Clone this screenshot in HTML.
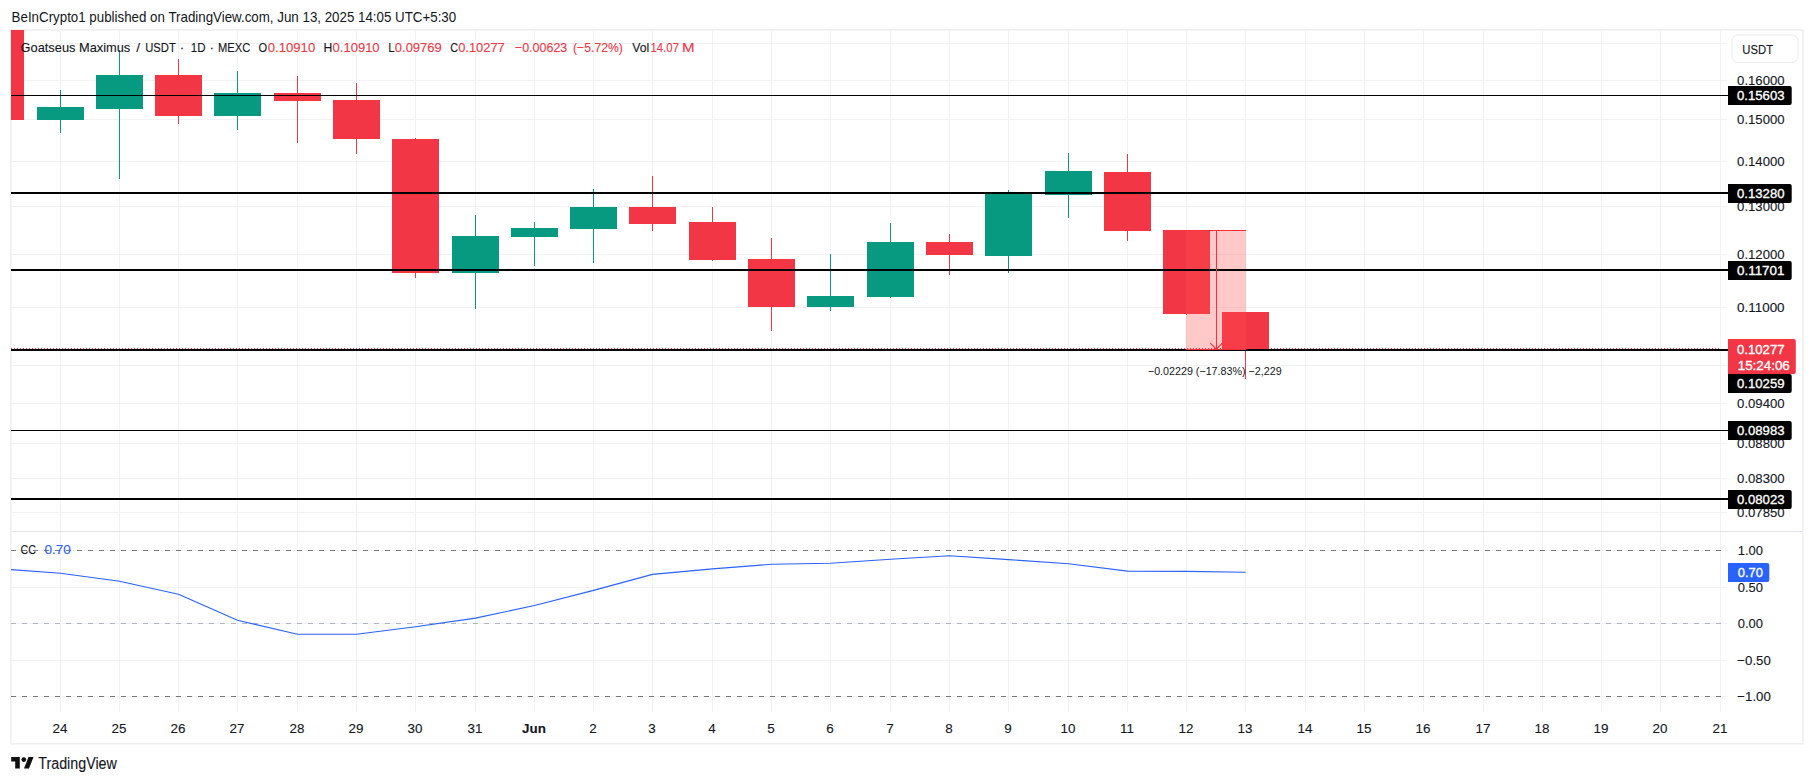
<!DOCTYPE html>
<html><head><meta charset="utf-8"><title>Goatseus Maximus / USDT chart</title>
<style>
html,body{margin:0;padding:0;background:#fff;width:1814px;height:783px;overflow:hidden;}
svg{display:block;}
text{font-family:'Liberation Sans', Arial, sans-serif;}
</style></head><body>
<svg width="1814" height="783" viewBox="0 0 1814 783">
<rect x="0" y="0" width="1814" height="783" fill="#ffffff"/>

<text x="11.6" y="21.7" font-size="13.9" fill="#131722" textLength="444.6" lengthAdjust="spacingAndGlyphs">BeInCrypto1 published on TradingView.com, Jun 13, 2025 14:05 UTC+5:30</text>
<rect x="10.8" y="29.9" width="1792" height="713.9" fill="#ffffff" stroke="#EFEFEF" stroke-width="1.6"/>
<path d="M60.5 31V712 M119.5 31V712 M178.5 31V712 M237.5 31V712 M297.5 31V712 M356.5 31V712 M415.5 31V712 M475.5 31V712 M534.5 31V712 M593.5 31V712 M652.5 31V712 M712.5 31V712 M771.5 31V712 M830.5 31V712 M890.5 31V712 M949.5 31V712 M1008.5 31V712 M1068.5 31V712 M1127.5 31V712 M1186.5 31V712 M1245.5 31V712 M1305.5 31V712 M1364.5 31V712 M1423.5 31V712 M1483.5 31V712 M1542.5 31V712 M1601.5 31V712 M1660.5 31V712 M1720.5 31V712 M11 43.5H1727 M11 80.5H1727 M11 119.5H1727 M11 161.5H1727 M11 206.5H1727 M11 254.5H1727 M11 307.5H1727 M11 365.5H1727 M11 403.5H1727 M11 443.5H1727 M11 478.5H1727 M11 512.5H1727 M11 550.5H1727 M11 587.5H1727 M11 623.5H1727 M11 660.5H1727 M11 696.5H1727" stroke="#F0F2F3" stroke-width="1" fill="none" shape-rendering="crispEdges"/>
<rect x="11" y="531" width="1791" height="1" fill="#E0E3EB"/>
<path d="M11 550.5H1721" stroke="#777777" stroke-width="1" stroke-dasharray="5 6" fill="none" shape-rendering="crispEdges"/>
<path d="M11 623.5H1721" stroke="#B2B5BE" stroke-width="1" stroke-dasharray="5 6" fill="none" shape-rendering="crispEdges"/>
<path d="M11 696.5H1721" stroke="#777777" stroke-width="1" stroke-dasharray="5 6" fill="none" shape-rendering="crispEdges"/>
<g shape-rendering="crispEdges">
<rect x="11" y="30" width="13" height="90" fill="#F23645"/>
<rect x="60" y="90" width="1" height="43" fill="#089981"/>
<rect x="37" y="107" width="47" height="13" fill="#089981"/>
<rect x="119" y="50" width="1" height="129" fill="#089981"/>
<rect x="96" y="75" width="47" height="34" fill="#089981"/>
<rect x="178" y="59" width="1" height="65" fill="#F23645"/>
<rect x="155" y="75" width="47" height="41" fill="#F23645"/>
<rect x="237" y="71" width="1" height="59" fill="#089981"/>
<rect x="214" y="93" width="47" height="23" fill="#089981"/>
<rect x="297" y="76" width="1" height="67" fill="#F23645"/>
<rect x="274" y="93" width="47" height="8" fill="#F23645"/>
<rect x="356" y="83" width="1" height="71" fill="#F23645"/>
<rect x="333" y="100" width="47" height="39" fill="#F23645"/>
<rect x="415" y="138" width="1" height="140" fill="#F23645"/>
<rect x="392" y="139" width="47" height="134" fill="#F23645"/>
<rect x="475" y="215" width="1" height="94" fill="#089981"/>
<rect x="452" y="236" width="47" height="37" fill="#089981"/>
<rect x="534" y="222" width="1" height="44" fill="#089981"/>
<rect x="511" y="228" width="47" height="9" fill="#089981"/>
<rect x="593" y="189" width="1" height="74" fill="#089981"/>
<rect x="570" y="207" width="47" height="22" fill="#089981"/>
<rect x="652" y="176" width="1" height="55" fill="#F23645"/>
<rect x="629" y="207" width="47" height="17" fill="#F23645"/>
<rect x="712" y="207" width="1" height="54" fill="#F23645"/>
<rect x="689" y="222" width="47" height="38" fill="#F23645"/>
<rect x="771" y="238" width="1" height="93" fill="#F23645"/>
<rect x="748" y="259" width="47" height="48" fill="#F23645"/>
<rect x="830" y="254" width="1" height="57" fill="#089981"/>
<rect x="807" y="296" width="47" height="11" fill="#089981"/>
<rect x="890" y="223" width="1" height="75" fill="#089981"/>
<rect x="867" y="242" width="47" height="55" fill="#089981"/>
<rect x="949" y="234" width="1" height="41" fill="#F23645"/>
<rect x="926" y="242" width="47" height="13" fill="#F23645"/>
<rect x="1008" y="190" width="1" height="83" fill="#089981"/>
<rect x="985" y="194" width="47" height="62" fill="#089981"/>
<rect x="1068" y="153" width="1" height="65" fill="#089981"/>
<rect x="1045" y="171" width="47" height="24" fill="#089981"/>
<rect x="1127" y="154" width="1" height="87" fill="#F23645"/>
<rect x="1104" y="172" width="47" height="59" fill="#F23645"/>
<rect x="1186" y="230" width="1" height="85" fill="#F23645"/>
<rect x="1163" y="230" width="47" height="84" fill="#F23645"/>
<rect x="1245" y="312" width="1" height="67" fill="#F23645"/>
<rect x="1222" y="312" width="47" height="38" fill="#F23645"/>
</g>
<rect x="1186" y="231" width="60" height="118" fill="rgba(255,82,82,0.31)"/>
<g shape-rendering="crispEdges">
<rect x="11" y="95" width="1717" height="1" fill="#000"/>
<rect x="11" y="192" width="1717" height="2" fill="#000"/>
<rect x="11" y="269" width="1717" height="2" fill="#000"/>
<rect x="11" y="349" width="1717" height="2" fill="#000"/>
<rect x="11" y="430" width="1717" height="1" fill="#000"/>
<rect x="11" y="498" width="1717" height="2" fill="#000"/>
</g>
<path d="M11 348.5H1721" stroke="#F23645" stroke-width="1" stroke-dasharray="1 2" fill="none" shape-rendering="crispEdges"/>
<rect x="1186" y="230" width="60" height="1" fill="#FF2E3A"/>
<rect x="1186" y="349" width="60" height="1" fill="#FF2E3A"/>
<rect x="1216" y="230" width="1" height="119" fill="#FF2E3A"/>
<path d="M1210.3 343.2L1216.5 349.2L1222.2 343.2" stroke="#FF2E3A" stroke-width="1.15" fill="none"/>
<text x="1147.9" y="374.9" font-size="11" fill="#131722" textLength="133.7" lengthAdjust="spacingAndGlyphs">−0.02229 (−17.83%) −2,229</text>
<clipPath id="ip"><rect x="11" y="532" width="1710" height="180"/></clipPath>
<polyline clip-path="url(#ip)" points="1,568.9 60.5,573.2 119.5,581.2 178.5,594.3 237.5,620.3 297.5,634.3 356.5,634.3 415.5,626.8 475.5,618.1 534.5,605.5 593.5,590.4 652.5,574.4 712.5,568.9 771.5,564.3 830.5,563.3 890.5,559.3 949.5,555.7 1008.5,559.6 1068.5,563.7 1127.5,571.1 1186.5,571.4 1245.5,572.3" fill="none" stroke="#2962FF" stroke-width="1.1" stroke-linejoin="round"/>
<text x="20.6" y="51.7" font-size="13.6" fill="#131722" stroke="#131722" stroke-width="0.12" textLength="109.6" lengthAdjust="spacingAndGlyphs">Goatseus Maximus</text>
<text x="138.2" y="51.7" font-size="13.6" fill="#131722" stroke="#131722" stroke-width="0.12" text-anchor="middle">/</text>
<text x="145.2" y="51.7" font-size="13.6" fill="#131722" stroke="#131722" stroke-width="0.12" textLength="30.6" lengthAdjust="spacingAndGlyphs">USDT</text>
<text x="182.0" y="51.7" font-size="13.6" fill="#131722" stroke="#131722" stroke-width="0.12" text-anchor="middle">·</text>
<text x="190.8" y="51.7" font-size="13.6" fill="#131722" stroke="#131722" stroke-width="0.12" textLength="14.8" lengthAdjust="spacingAndGlyphs">1D</text>
<text x="211.8" y="51.7" font-size="13.6" fill="#131722" stroke="#131722" stroke-width="0.12" text-anchor="middle">·</text>
<text x="218.0" y="51.7" font-size="13.6" fill="#131722" stroke="#131722" stroke-width="0.12" textLength="32.2" lengthAdjust="spacingAndGlyphs">MEXC</text>
<text x="258.5" y="51.7" font-size="13.6" fill="#131722" stroke="#131722" stroke-width="0.12" textLength="8.6" lengthAdjust="spacingAndGlyphs">O</text>
<text x="267.8" y="51.7" font-size="13.6" fill="#F23645" stroke="#F23645" stroke-width="0.12" textLength="47.4" lengthAdjust="spacingAndGlyphs">0.10910</text>
<text x="323.6" y="51.7" font-size="13.6" fill="#131722" stroke="#131722" stroke-width="0.12" textLength="8.8" lengthAdjust="spacingAndGlyphs">H</text>
<text x="332.6" y="51.7" font-size="13.6" fill="#F23645" stroke="#F23645" stroke-width="0.12" textLength="47.0" lengthAdjust="spacingAndGlyphs">0.10910</text>
<text x="388.2" y="51.7" font-size="13.6" fill="#131722" stroke="#131722" stroke-width="0.12" textLength="6.4" lengthAdjust="spacingAndGlyphs">L</text>
<text x="394.8" y="51.7" font-size="13.6" fill="#F23645" stroke="#F23645" stroke-width="0.12" textLength="47.0" lengthAdjust="spacingAndGlyphs">0.09769</text>
<text x="450.2" y="51.7" font-size="13.6" fill="#131722" stroke="#131722" stroke-width="0.12" textLength="7.8" lengthAdjust="spacingAndGlyphs">C</text>
<text x="458.2" y="51.7" font-size="13.6" fill="#F23645" stroke="#F23645" stroke-width="0.12" textLength="46.6" lengthAdjust="spacingAndGlyphs">0.10277</text>
<text x="514.9" y="51.7" font-size="13.6" fill="#F23645" stroke="#F23645" stroke-width="0.12" textLength="52.4" lengthAdjust="spacingAndGlyphs">−0.00623</text>
<text x="573.0" y="51.7" font-size="13.6" fill="#F23645" stroke="#F23645" stroke-width="0.12" textLength="49.9" lengthAdjust="spacingAndGlyphs">(−5.72%)</text>
<text x="632.2" y="51.7" font-size="13.6" fill="#131722" stroke="#131722" stroke-width="0.12" textLength="17.0" lengthAdjust="spacingAndGlyphs">Vol</text>
<text x="650.4" y="51.7" font-size="13.6" fill="#F23645" stroke="#F23645" stroke-width="0.12" textLength="28.6" lengthAdjust="spacingAndGlyphs">14.07</text>
<text x="682.0" y="51.7" font-size="13.6" fill="#F23645" stroke="#F23645" stroke-width="0.12" textLength="12.6" lengthAdjust="spacingAndGlyphs">M</text>
<text x="20.4" y="553.9" font-size="13.6" fill="#131722" stroke="#131722" stroke-width="0.12" textLength="15.6" lengthAdjust="spacingAndGlyphs">CC</text>
<text x="44.4" y="553.9" font-size="13.6" fill="#2962FF" stroke="#2962FF" stroke-width="0.12" textLength="26.4" lengthAdjust="spacingAndGlyphs">0.70</text>
<text x="1737.1" y="84.7" font-size="13.6" fill="#131722" stroke="#131722" stroke-width="0.12" textLength="47.5" lengthAdjust="spacingAndGlyphs">0.16000</text>
<text x="1737.1" y="123.7" font-size="13.6" fill="#131722" stroke="#131722" stroke-width="0.12" textLength="47.5" lengthAdjust="spacingAndGlyphs">0.15000</text>
<text x="1737.1" y="165.7" font-size="13.6" fill="#131722" stroke="#131722" stroke-width="0.12" textLength="47.5" lengthAdjust="spacingAndGlyphs">0.14000</text>
<text x="1737.1" y="210.7" font-size="13.6" fill="#131722" stroke="#131722" stroke-width="0.12" textLength="47.5" lengthAdjust="spacingAndGlyphs">0.13000</text>
<text x="1737.1" y="258.7" font-size="13.6" fill="#131722" stroke="#131722" stroke-width="0.12" textLength="47.5" lengthAdjust="spacingAndGlyphs">0.12000</text>
<text x="1737.1" y="311.7" font-size="13.6" fill="#131722" stroke="#131722" stroke-width="0.12" textLength="47.5" lengthAdjust="spacingAndGlyphs">0.11000</text>
<text x="1737.1" y="369.7" font-size="13.6" fill="#131722" stroke="#131722" stroke-width="0.12" textLength="47.5" lengthAdjust="spacingAndGlyphs">0.10000</text>
<text x="1737.1" y="407.7" font-size="13.6" fill="#131722" stroke="#131722" stroke-width="0.12" textLength="47.5" lengthAdjust="spacingAndGlyphs">0.09400</text>
<text x="1737.1" y="447.7" font-size="13.6" fill="#131722" stroke="#131722" stroke-width="0.12" textLength="47.5" lengthAdjust="spacingAndGlyphs">0.08800</text>
<text x="1737.1" y="482.7" font-size="13.6" fill="#131722" stroke="#131722" stroke-width="0.12" textLength="47.5" lengthAdjust="spacingAndGlyphs">0.08300</text>
<text x="1737.1" y="516.7" font-size="13.6" fill="#131722" stroke="#131722" stroke-width="0.12" textLength="47.5" lengthAdjust="spacingAndGlyphs">0.07850</text>
<text x="1737.7" y="554.8" font-size="13.6" fill="#131722" stroke="#131722" stroke-width="0.12" textLength="25.2" lengthAdjust="spacingAndGlyphs">1.00</text>
<text x="1737.7" y="591.8" font-size="13.6" fill="#131722" stroke="#131722" stroke-width="0.12" textLength="25.2" lengthAdjust="spacingAndGlyphs">0.50</text>
<text x="1737.7" y="627.8" font-size="13.6" fill="#131722" stroke="#131722" stroke-width="0.12" textLength="25.2" lengthAdjust="spacingAndGlyphs">0.00</text>
<text x="1737.3" y="664.8" font-size="13.6" fill="#131722" stroke="#131722" stroke-width="0.12" textLength="33.5" lengthAdjust="spacingAndGlyphs">−0.50</text>
<text x="1737.3" y="700.8" font-size="13.6" fill="#131722" stroke="#131722" stroke-width="0.12" textLength="33.5" lengthAdjust="spacingAndGlyphs">−1.00</text>
<rect x="1732" y="35" width="66" height="27.5" rx="6" fill="#fff" stroke="#EBEBEB" stroke-width="1"/>
<text x="1742.3" y="53.7" font-size="13.6" fill="#131722" stroke="#131722" stroke-width="0.12" textLength="30.8" lengthAdjust="spacingAndGlyphs">USDT</text>
<path d="M1728 86H1789.7Q1791.7 86 1791.7 88V103Q1791.7 105 1789.7 105H1728Z" fill="#000"/>
<text x="1737.0" y="100.2" font-size="13.6" fill="#fff" stroke="#fff" stroke-width="0.35" textLength="47.5" lengthAdjust="spacingAndGlyphs">0.15603</text>
<path d="M1728 184H1789.7Q1791.7 184 1791.7 186V201Q1791.7 203 1789.7 203H1728Z" fill="#000"/>
<text x="1737.0" y="198.2" font-size="13.6" fill="#fff" stroke="#fff" stroke-width="0.35" textLength="47.5" lengthAdjust="spacingAndGlyphs">0.13280</text>
<path d="M1728 261H1789.7Q1791.7 261 1791.7 263V278Q1791.7 280 1789.7 280H1728Z" fill="#000"/>
<text x="1737.0" y="275.2" font-size="13.6" fill="#fff" stroke="#fff" stroke-width="0.35" textLength="47.5" lengthAdjust="spacingAndGlyphs">0.11701</text>
<path d="M1728 421H1789.7Q1791.7 421 1791.7 423V438Q1791.7 440 1789.7 440H1728Z" fill="#000"/>
<text x="1737.0" y="435.2" font-size="13.6" fill="#fff" stroke="#fff" stroke-width="0.35" textLength="47.5" lengthAdjust="spacingAndGlyphs">0.08983</text>
<path d="M1728 490H1789.7Q1791.7 490 1791.7 492V507Q1791.7 509 1789.7 509H1728Z" fill="#000"/>
<text x="1737.0" y="504.2" font-size="13.6" fill="#fff" stroke="#fff" stroke-width="0.35" textLength="47.5" lengthAdjust="spacingAndGlyphs">0.08023</text>
<path d="M1728 339H1793.8Q1795.8 339 1795.8 341V372Q1795.8 374 1793.8 374H1728Z" fill="#F23645"/>
<text x="1737.0" y="353.8" font-size="13.6" fill="#fff" stroke="#fff" stroke-width="0.35" textLength="47.5" lengthAdjust="spacingAndGlyphs">0.10277</text>
<text x="1737.7" y="369.9" font-size="13.6" fill="#fff" stroke="#fff" stroke-width="0.35" textLength="52.1" lengthAdjust="spacingAndGlyphs">15:24:06</text>
<path d="M1728 374H1789.7Q1791.7 374 1791.7 376V391Q1791.7 393 1789.7 393H1728Z" fill="#000"/>
<text x="1737.0" y="388.2" font-size="13.6" fill="#fff" stroke="#fff" stroke-width="0.35" textLength="47.5" lengthAdjust="spacingAndGlyphs">0.10259</text>
<path d="M1728 563H1767.3Q1769.3 563 1769.3 565V580Q1769.3 582 1767.3 582H1728Z" fill="#2962FF"/>
<text x="1737.7" y="577.2" font-size="13.6" fill="#fff" stroke="#fff" stroke-width="0.35" textLength="25.2" lengthAdjust="spacingAndGlyphs">0.70</text>
<text x="60" y="732.7" font-size="13.4" fill="#131722" stroke="#131722" stroke-width="0.12" text-anchor="middle">24</text>
<text x="119" y="732.7" font-size="13.4" fill="#131722" stroke="#131722" stroke-width="0.12" text-anchor="middle">25</text>
<text x="178" y="732.7" font-size="13.4" fill="#131722" stroke="#131722" stroke-width="0.12" text-anchor="middle">26</text>
<text x="237" y="732.7" font-size="13.4" fill="#131722" stroke="#131722" stroke-width="0.12" text-anchor="middle">27</text>
<text x="297" y="732.7" font-size="13.4" fill="#131722" stroke="#131722" stroke-width="0.12" text-anchor="middle">28</text>
<text x="356" y="732.7" font-size="13.4" fill="#131722" stroke="#131722" stroke-width="0.12" text-anchor="middle">29</text>
<text x="415" y="732.7" font-size="13.4" fill="#131722" stroke="#131722" stroke-width="0.12" text-anchor="middle">30</text>
<text x="475" y="732.7" font-size="13.4" fill="#131722" stroke="#131722" stroke-width="0.12" text-anchor="middle">31</text>
<text x="534" y="732.7" font-size="13.4" fill="#131722" stroke="#131722" stroke-width="0.12" font-weight="bold" text-anchor="middle">Jun</text>
<text x="593" y="732.7" font-size="13.4" fill="#131722" stroke="#131722" stroke-width="0.12" text-anchor="middle">2</text>
<text x="652" y="732.7" font-size="13.4" fill="#131722" stroke="#131722" stroke-width="0.12" text-anchor="middle">3</text>
<text x="712" y="732.7" font-size="13.4" fill="#131722" stroke="#131722" stroke-width="0.12" text-anchor="middle">4</text>
<text x="771" y="732.7" font-size="13.4" fill="#131722" stroke="#131722" stroke-width="0.12" text-anchor="middle">5</text>
<text x="830" y="732.7" font-size="13.4" fill="#131722" stroke="#131722" stroke-width="0.12" text-anchor="middle">6</text>
<text x="890" y="732.7" font-size="13.4" fill="#131722" stroke="#131722" stroke-width="0.12" text-anchor="middle">7</text>
<text x="949" y="732.7" font-size="13.4" fill="#131722" stroke="#131722" stroke-width="0.12" text-anchor="middle">8</text>
<text x="1008" y="732.7" font-size="13.4" fill="#131722" stroke="#131722" stroke-width="0.12" text-anchor="middle">9</text>
<text x="1068" y="732.7" font-size="13.4" fill="#131722" stroke="#131722" stroke-width="0.12" text-anchor="middle">10</text>
<text x="1127" y="732.7" font-size="13.4" fill="#131722" stroke="#131722" stroke-width="0.12" text-anchor="middle">11</text>
<text x="1186" y="732.7" font-size="13.4" fill="#131722" stroke="#131722" stroke-width="0.12" text-anchor="middle">12</text>
<text x="1245" y="732.7" font-size="13.4" fill="#131722" stroke="#131722" stroke-width="0.12" text-anchor="middle">13</text>
<text x="1305" y="732.7" font-size="13.4" fill="#131722" stroke="#131722" stroke-width="0.12" text-anchor="middle">14</text>
<text x="1364" y="732.7" font-size="13.4" fill="#131722" stroke="#131722" stroke-width="0.12" text-anchor="middle">15</text>
<text x="1423" y="732.7" font-size="13.4" fill="#131722" stroke="#131722" stroke-width="0.12" text-anchor="middle">16</text>
<text x="1483" y="732.7" font-size="13.4" fill="#131722" stroke="#131722" stroke-width="0.12" text-anchor="middle">17</text>
<text x="1542" y="732.7" font-size="13.4" fill="#131722" stroke="#131722" stroke-width="0.12" text-anchor="middle">18</text>
<text x="1601" y="732.7" font-size="13.4" fill="#131722" stroke="#131722" stroke-width="0.12" text-anchor="middle">19</text>
<text x="1660" y="732.7" font-size="13.4" fill="#131722" stroke="#131722" stroke-width="0.12" text-anchor="middle">20</text>
<text x="1720" y="732.7" font-size="13.4" fill="#131722" stroke="#131722" stroke-width="0.12" text-anchor="middle">21</text>
<g fill="#0F0F0F">
<path d="M11.2 757.1H19.8V768.5H15.2V761.5H11.2Z"/>
<circle cx="23.8" cy="759.6" r="2.4"/>
<path d="M28.5 757.1H33.5L29.0 768.5H24.0Z"/>
</g>
<text x="38.3" y="768.8" font-size="15.8" fill="#131722" stroke="#131722" stroke-width="0.12" textLength="78.5" lengthAdjust="spacingAndGlyphs">TradingView</text>
</svg></body></html>
